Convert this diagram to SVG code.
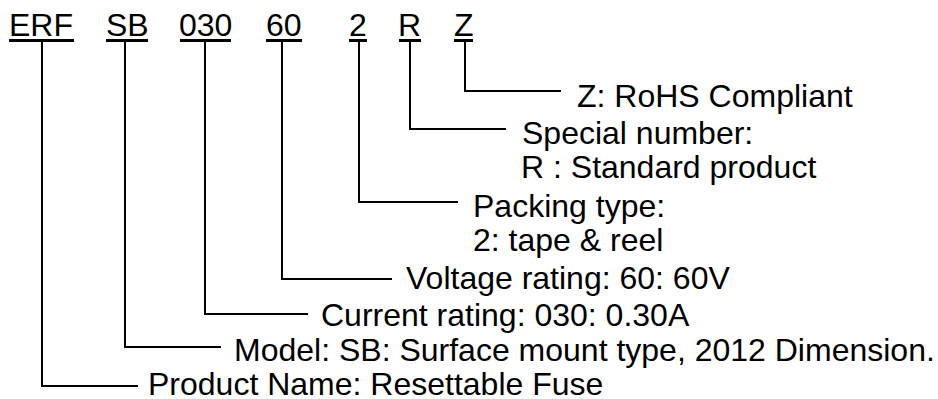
<svg xmlns="http://www.w3.org/2000/svg" width="938" height="399" viewBox="0 0 938 399">
<style>
text{font-family:"Liberation Sans",Arial,sans-serif;font-size:32px;fill:#000}
.ul{stroke:#000;stroke-width:3;fill:none}
.c{stroke:#000;stroke-width:2;fill:none}
</style>
<rect width="938" height="399" fill="#fff"/>
<g id="code-ERF"><text x="9" y="36">ERF</text><line class="ul" x1="9" y1="40.5" x2="74" y2="40.5"/></g>
<g id="code-SB"><text x="106" y="36">SB</text><line class="ul" x1="106" y1="40.5" x2="148" y2="40.5"/></g>
<g id="code-030"><text x="179" y="36">030</text><line class="ul" x1="180" y1="40.5" x2="231" y2="40.5"/></g>
<g id="code-60"><text x="266" y="36">60</text><line class="ul" x1="266" y1="40.5" x2="302" y2="40.5"/></g>
<g id="code-2"><text x="349" y="36">2</text><line class="ul" x1="349" y1="40.5" x2="367" y2="40.5"/></g>
<g id="code-R"><text x="398" y="36">R</text><line class="ul" x1="399" y1="40.5" x2="421" y2="40.5"/></g>
<g id="code-Z"><text x="454" y="36">Z</text><line class="ul" x1="454" y1="40.5" x2="473" y2="40.5"/></g>
<g id="connectors">
<polyline class="c" points="465,42 465,91 561,91"/>
<polyline class="c" points="410,42 410,129 506,129"/>
<polyline class="c" points="359,42 359,202 458,202"/>
<polyline class="c" points="282,42 282,279 392,279"/>
<polyline class="c" points="205,42 205,314 308,314"/>
<polyline class="c" points="125,42 125,347 221,347"/>
<polyline class="c" points="42,42 42,386 138,386"/>
</g>
<g id="desc-Z"><text x="577" y="107">Z: RoHS Compliant</text></g>
<g id="desc-R"><text x="522" y="144">Special number:</text><text x="521" y="178">R : Standard product</text></g>
<g id="desc-2"><text x="473" y="217">Packing type:</text><text x="473" y="251">2: tape &amp; reel</text></g>
<g id="desc-60"><text x="406" y="289">Voltage rating: 60: 60V</text></g>
<g id="desc-030"><text x="321" y="326">Current rating: 030: 0.30A</text></g>
<g id="desc-SB"><text x="234" y="361">Model: SB: Surface mount type, 2012 Dimension.</text></g>
<g id="desc-ERF"><text x="148" y="395">Product Name: Resettable Fuse</text></g>
</svg>
